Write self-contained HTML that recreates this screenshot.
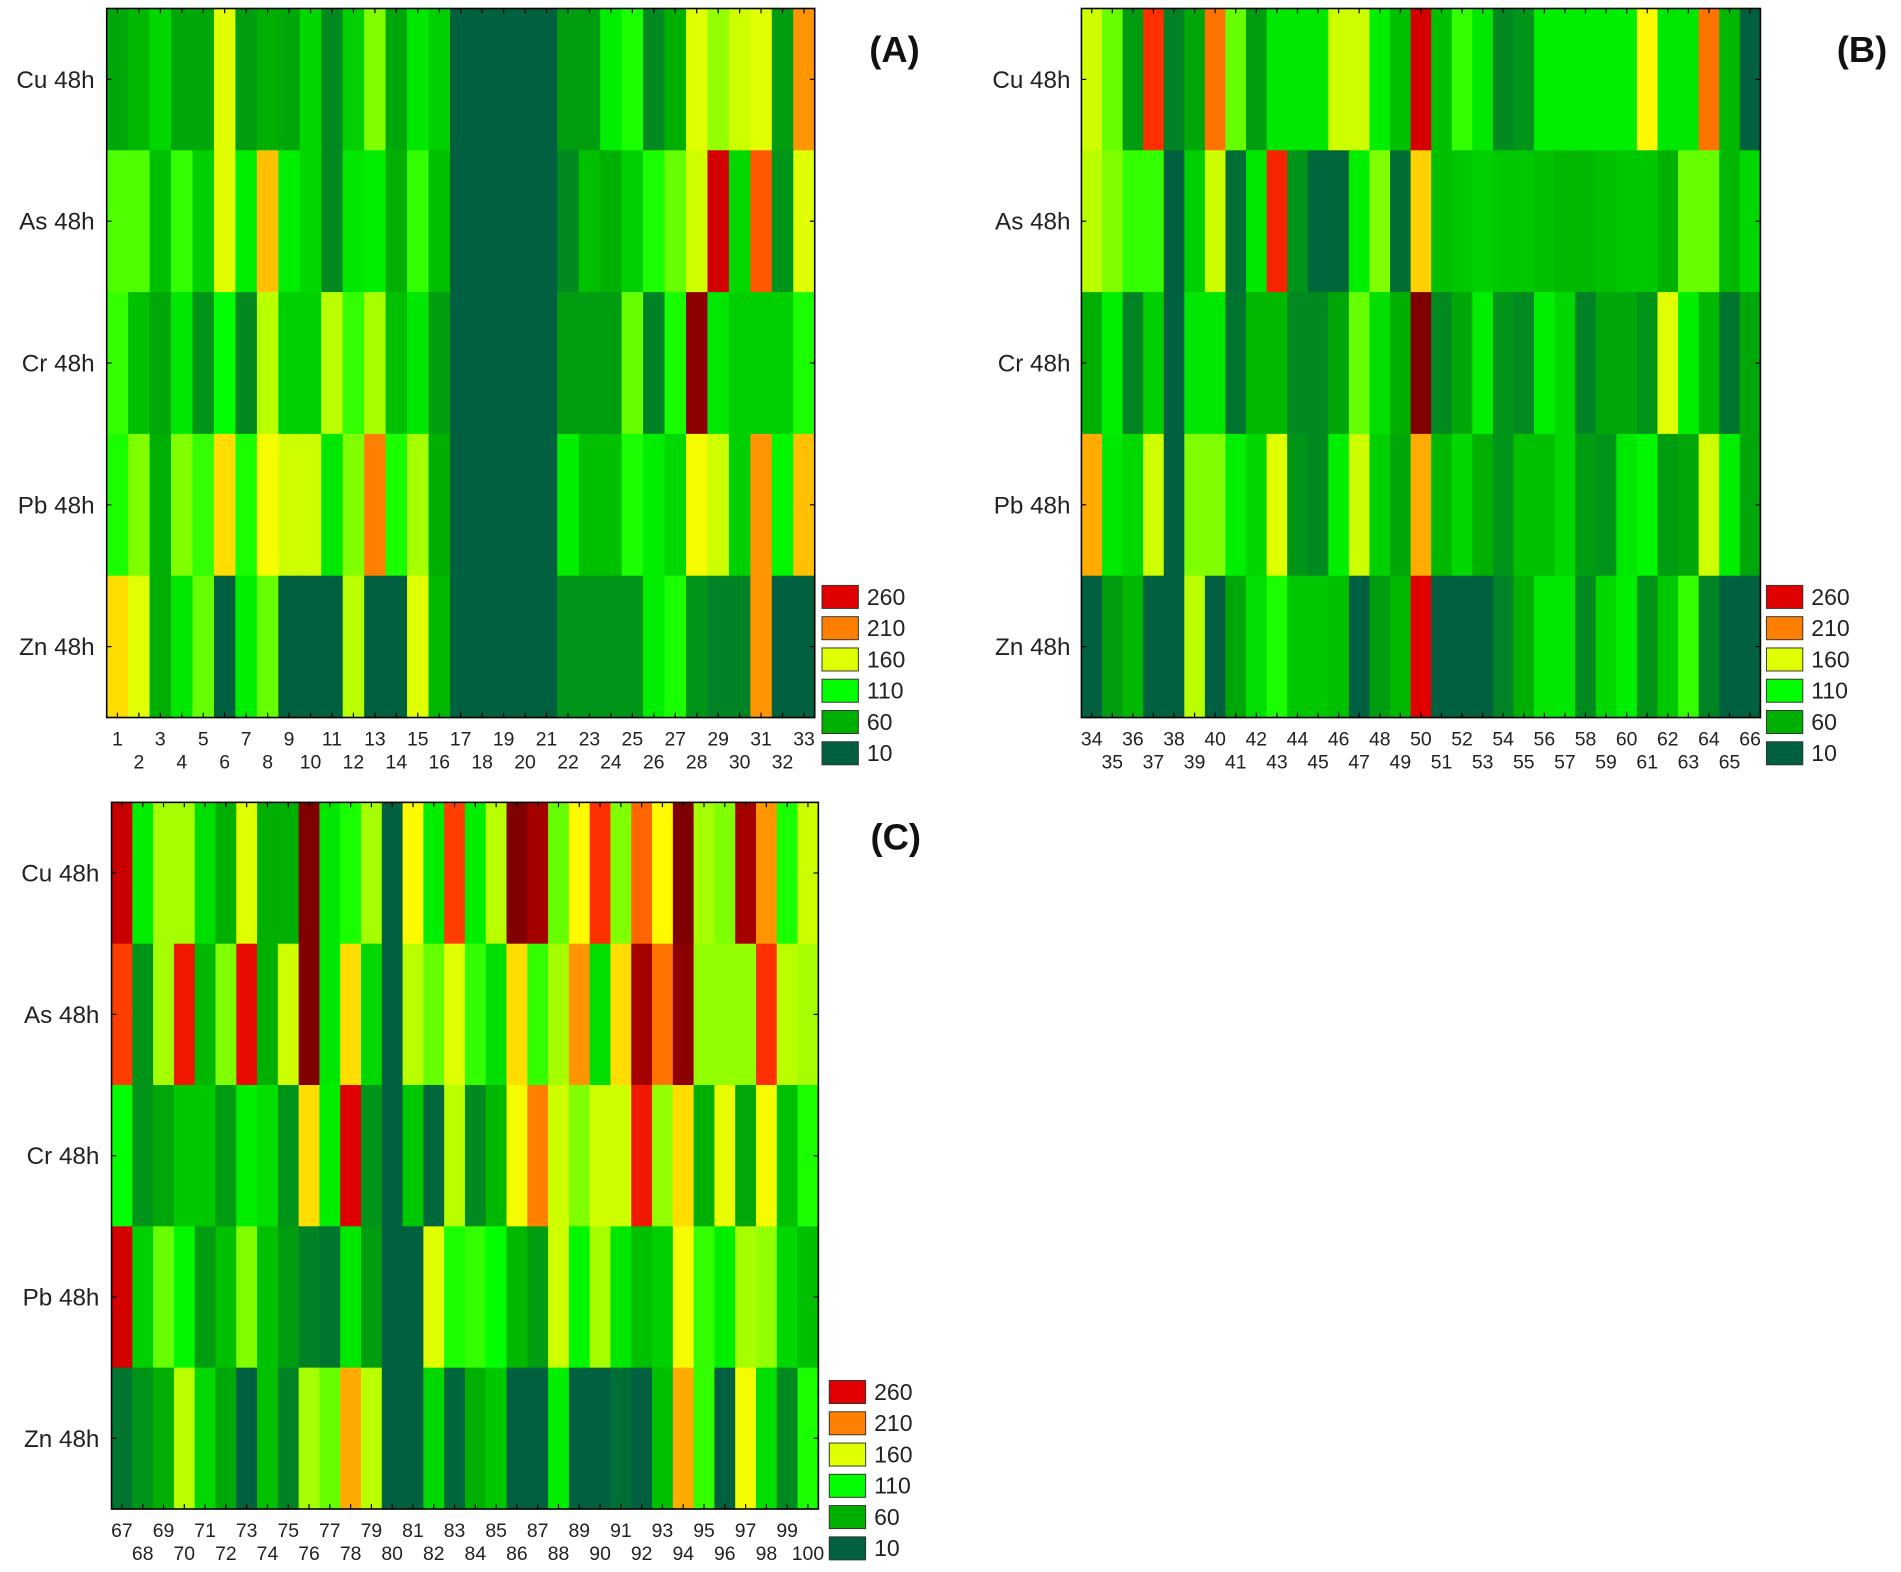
<!DOCTYPE html>
<html><head><meta charset="utf-8"><style>
html,body{margin:0;padding:0;background:#fff;}
svg{display:block;font-family:"Liberation Sans",Arial,sans-serif;}
</style></head><body>
<svg id="chart" width="1901" height="1572" viewBox="0 0 1568 1297" preserveAspectRatio="none" xmlns="http://www.w3.org/2000/svg"></svg>
<script>
const rowLabels = ["Cu 48h","As 48h","Cr 48h","Pb 48h","Zn 48h"];
const legendValues = [260,210,160,110,60,10];
const catsA = [1,2,3,4,5,6,7,8,9,10,11,12,13,14,15,16,17,18,19,20,21,22,23,24,25,26,27,28,29,30,31,32,33];
const catsB = [34,35,36,37,38,39,40,41,42,43,44,45,46,47,48,49,50,51,52,53,54,55,56,57,58,59,60,61,62,63,64,65,66];
const catsC = [67,68,69,70,71,72,73,74,75,76,77,78,79,80,81,82,83,84,85,86,87,88,89,90,91,92,93,94,95,96,97,98,99,100];
const cuA = [55,65,85,55,55,160,50,60,55,85,40,80,135,55,95,80,10,10,10,10,10,50,50,100,115,40,60,160,140,155,160,50,205];
const asA = [125,125,70,120,80,160,100,195,100,85,40,95,100,60,120,70,10,10,10,10,10,40,70,60,80,115,130,155,265,85,225,45,160];
const crA = [120,70,55,95,45,110,40,150,80,80,150,120,145,70,95,50,10,10,10,10,10,50,50,50,130,35,115,295,95,80,80,80,115];
const pbA = [115,135,60,135,120,185,115,170,155,155,95,135,210,115,145,60,10,10,10,10,10,100,70,70,115,100,85,170,155,80,205,105,195];
const znA = [185,160,60,95,130,10,100,130,10,10,10,150,10,10,160,65,10,10,10,10,10,45,45,45,45,100,115,45,35,35,205,10,10];
const cuB = [155,130,50,240,35,55,215,130,50,95,95,95,155,155,100,70,265,70,120,95,40,45,100,100,100,100,100,175,95,95,215,65,10];
const asB = [150,135,120,120,10,80,155,20,95,245,45,15,15,100,135,20,190,70,75,80,75,75,70,65,65,70,75,75,60,130,130,65,85];
const crB = [60,100,35,80,10,95,95,25,65,65,40,40,55,130,90,60,300,40,55,100,45,40,100,85,35,55,55,45,160,100,65,25,55];
const pbB = [200,95,85,155,10,135,135,100,85,160,45,40,100,155,80,55,200,65,85,60,45,70,70,85,50,45,95,105,50,55,155,100,55];
const znB = [10,50,65,10,10,150,10,55,90,115,75,75,70,10,50,65,260,10,10,10,35,60,95,95,40,85,100,45,75,120,35,10,10];
const cuC = [270,100,145,145,90,60,160,60,60,300,95,115,145,10,175,100,235,100,150,300,285,130,175,240,135,220,175,300,145,135,285,205,115,155];
const asC = [235,45,145,250,65,135,255,60,155,300,95,185,85,10,150,130,160,120,90,185,120,145,205,90,185,285,215,295,140,140,140,240,150,145];
const crC = [110,45,55,75,75,50,100,90,45,185,100,260,45,10,75,15,150,40,65,170,210,155,135,155,155,250,140,185,60,165,55,170,70,115];
const pbC = [265,80,130,105,50,70,135,70,50,35,25,95,50,10,10,160,115,120,110,65,50,155,105,145,95,70,80,170,120,100,145,140,85,70];
const znC = [25,45,60,150,85,55,10,70,35,145,130,200,150,10,10,85,15,60,75,10,10,100,10,10,20,10,70,200,120,10,170,90,40,115];

const NS="http://www.w3.org/2000/svg";
const svg=document.getElementById('chart');
const stops=[[10,[0,96,64]],[40,[0,138,32]],[60,[0,176,0]],[110,[0,255,0]],[135,[128,255,0]],[160,[224,255,0]],[175,[255,250,0]],[195,[255,192,0]],[210,[255,128,0]],[240,[255,48,0]],[260,[224,0,0]],[300,[128,0,0]]];
function colorOf(v){
  if(v<=stops[0][0]) return 'rgb('+stops[0][1]+')';
  for(let i=1;i<stops.length;i++){
    if(v<=stops[i][0]){const a=stops[i-1],b=stops[i];const t=(v-a[0])/(b[0]-a[0]);
      return 'rgb('+a[1].map((c,j)=>Math.round(c+(b[1][j]-c)*t)).join(',')+')';}
  }
  return 'rgb('+stops[stops.length-1][1]+')';
}
function el(tag,attrs,parent){const e=document.createElementNS(NS,tag);for(const k in attrs)e.setAttribute(k,attrs[k]);(parent||svg).appendChild(e);return e;}

function panel(id,cats,rows,L,R,T,B,labX,legX,legY,title,titleX,titleY){
  const g=el('g',{});
  
  
  const n=cats.length, cw=(R-L)/n, rh=(B-T)/rows.length;
  const xPos=i=>L+i*cw, yPos=r=>T+r*rh;
  rows.forEach((vals,r)=>{
    vals.forEach((v,i)=>{
      const c=el('rect',{x:xPos(i),y:yPos(r),width:cw+0.6,height:rh+0.6,fill:colorOf(v)},g);
      
      
    });
    const t=el('text',{x:labX,y:yPos(r)+rh/2+7,'text-anchor':'end','font-size':20,fill:'#222'},g);
    t.textContent=rowLabels[r];
    
    
    el('line',{x1:L,x2:L+4,y1:yPos(r)+rh/2,y2:yPos(r)+rh/2,stroke:'#000','stroke-width':1},g);
    el('line',{x1:R,x2:R-4,y1:yPos(r)+rh/2,y2:yPos(r)+rh/2,stroke:'#000','stroke-width':1},g);
  });
  const fr=el('rect',{x:L,y:T,width:R-L,height:B-T,fill:'none',stroke:'#000','stroke-width':1.3},g);
  
  
  cats.forEach((c,i)=>{
    const cx=xPos(i)+cw/2;
    el('line',{x1:cx,x2:cx,y1:B,y2:B-4,stroke:'#000','stroke-width':1},g);
    el('line',{x1:cx,x2:cx,y1:T,y2:T+4,stroke:'#000','stroke-width':1},g);
    const t=el('text',{x:cx,y:B+(i%2===0?23:42),'text-anchor':'middle','font-size':16,fill:'#222'},g);
    t.textContent=c;
    
    
  });
  legendValues.forEach((v,k)=>{
    const y=legY+k*25.8;
    const b=el('rect',{x:legX,y:y,width:30,height:19,fill:colorOf(v),stroke:'#333','stroke-width':0.8},g);
    
    
    const t=el('text',{x:legX+37,y:y+16,'font-size':19,fill:'#222'},g);
    t.textContent=v;
    
    
  });
  const tt=el('text',{x:titleX,y:titleY,'font-size':30,'font-weight':'bold',fill:'#111'},g);
  tt.textContent=title;
  
  
}
panel('a',catsA,[cuA,asA,crA,pbA,znA],88,672,7,592,78,678,483,'(A)',717,51);
panel('b',catsB,[cuB,asB,crB,pbB,znB],892,1452,7,592,883,1457,483,'(B)',1515,51);
panel('c',catsC,[cuC,asC,crC,pbC,znC],92,675,662,1245,82,684,1139,'(C)',718,701);
</script>
</body></html>
